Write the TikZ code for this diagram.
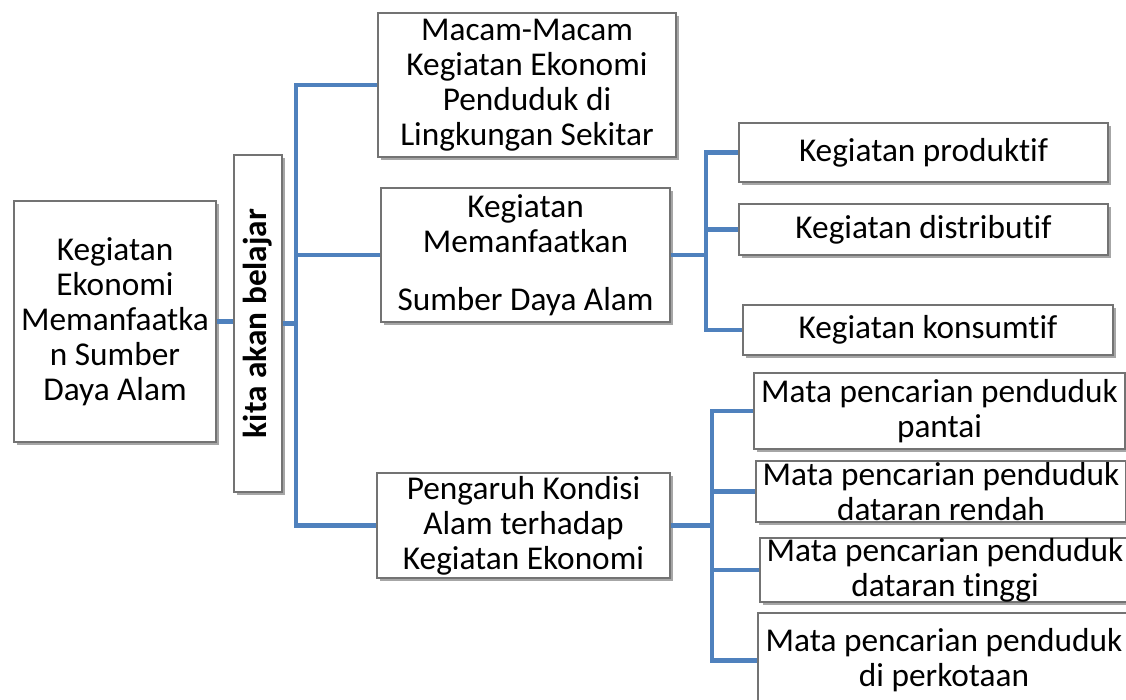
\documentclass[tikz,border=0pt]{standalone}
\usepackage{fontspec}
\setmainfont{Carlito}[Ligatures=NoCommon]
\usepackage{tikz}
\usetikzlibrary{shadows}
\definecolor{linkblue}{HTML}{4F81BD}

\begin{document}
\begin{tikzpicture}[x=1pt,y=-1pt]
\tikzstyle{box}=[draw=black!55, line width=1.2pt, fill=white, inner sep=0pt, align=center,
    font=\fontsize{33.3}{35}\selectfont, text=black,
    drop shadow={shadow xshift=2.5pt, shadow yshift=-3pt, opacity=0.35, fill=black}]
\tikzstyle{link}=[draw=linkblue, line width=4.5pt]
\clip (0,0) rectangle (1126,700);
\node[box, minimum width=202, minimum height=241] (root) at (115,321.5)
    {Kegiatan\\Ekonomi\\Memanfaatka\\n Sumber\\Daya Alam};
\node[box, minimum width=48, minimum height=337] (kita) at (258,323.5) {};
\node[rotate=90, font=\fontsize{33.3}{35}\selectfont\bfseries] (kitatext) at (kita) {kita akan belajar};
\node[box, minimum width=298, minimum height=144] (macam) at (527,85)
    {Macam-Macam\\Kegiatan Ekonomi\\Penduduk di\\Lingkungan Sekitar};
\node[box, minimum width=289, minimum height=134] (manfaat) at (525.5,255)
    {Kegiatan\\Memanfaatkan\\[23pt]Sumber Daya Alam};
\node[box, minimum width=293, minimum height=105] (pengaruh) at (523.5,525.5)
    {Pengaruh Kondisi\\Alam terhadap\\Kegiatan Ekonomi};
\node[box, minimum width=369, minimum height=59] (prod) at (923.5,152.5) {Kegiatan produktif};
\node[box, minimum width=369, minimum height=51] (dist) at (923.5,229.5) {Kegiatan distributif};
\node[box, minimum width=370, minimum height=50] (kons) at (928,330) {Kegiatan konsumtif};
\node[box, minimum width=371, minimum height=76] (pantai) at (939.5,411)
    {Mata pencarian penduduk\\pantai};
\node[box, minimum width=370, minimum height=61] (rendah) at (941,491.5)
    {Mata pencarian penduduk\\dataran rendah};
\node[box, minimum width=370, minimum height=64] (tinggi) at (945,570)
    {Mata pencarian penduduk\\dataran tinggi};
\node[box, minimum width=372, minimum height=95] (kota) at (944,660.5)
    {Mata pencarian penduduk\\di perkotaan};
\coordinate (trunk) at (296,323.5);
\coordinate (fork1) at (706,255);
\coordinate (fork2) at (712,525.5);
\draw[link] (root.east) -- (root.east -| kita.west);
\draw[link] (kita.east) -- (trunk);
\draw[link] (trunk) |- (macam.west);
\draw[link] (trunk) |- (manfaat.west);
\draw[link] (trunk) |- (pengaruh.west);
\draw[link] (manfaat.east) -- (fork1);
\draw[link] (fork1) |- (prod.west);
\draw[link] (fork1) |- (dist.west);
\draw[link] (fork1) |- (kons.west);
\draw[link] (pengaruh.east) -- (fork2);
\draw[link] (fork2) |- (pantai.west);
\draw[link] (fork2) |- (rendah.west);
\draw[link] (fork2) |- (tinggi.west);
\draw[link] (fork2) |- (kota.west);
\end{tikzpicture}
\end{document}
